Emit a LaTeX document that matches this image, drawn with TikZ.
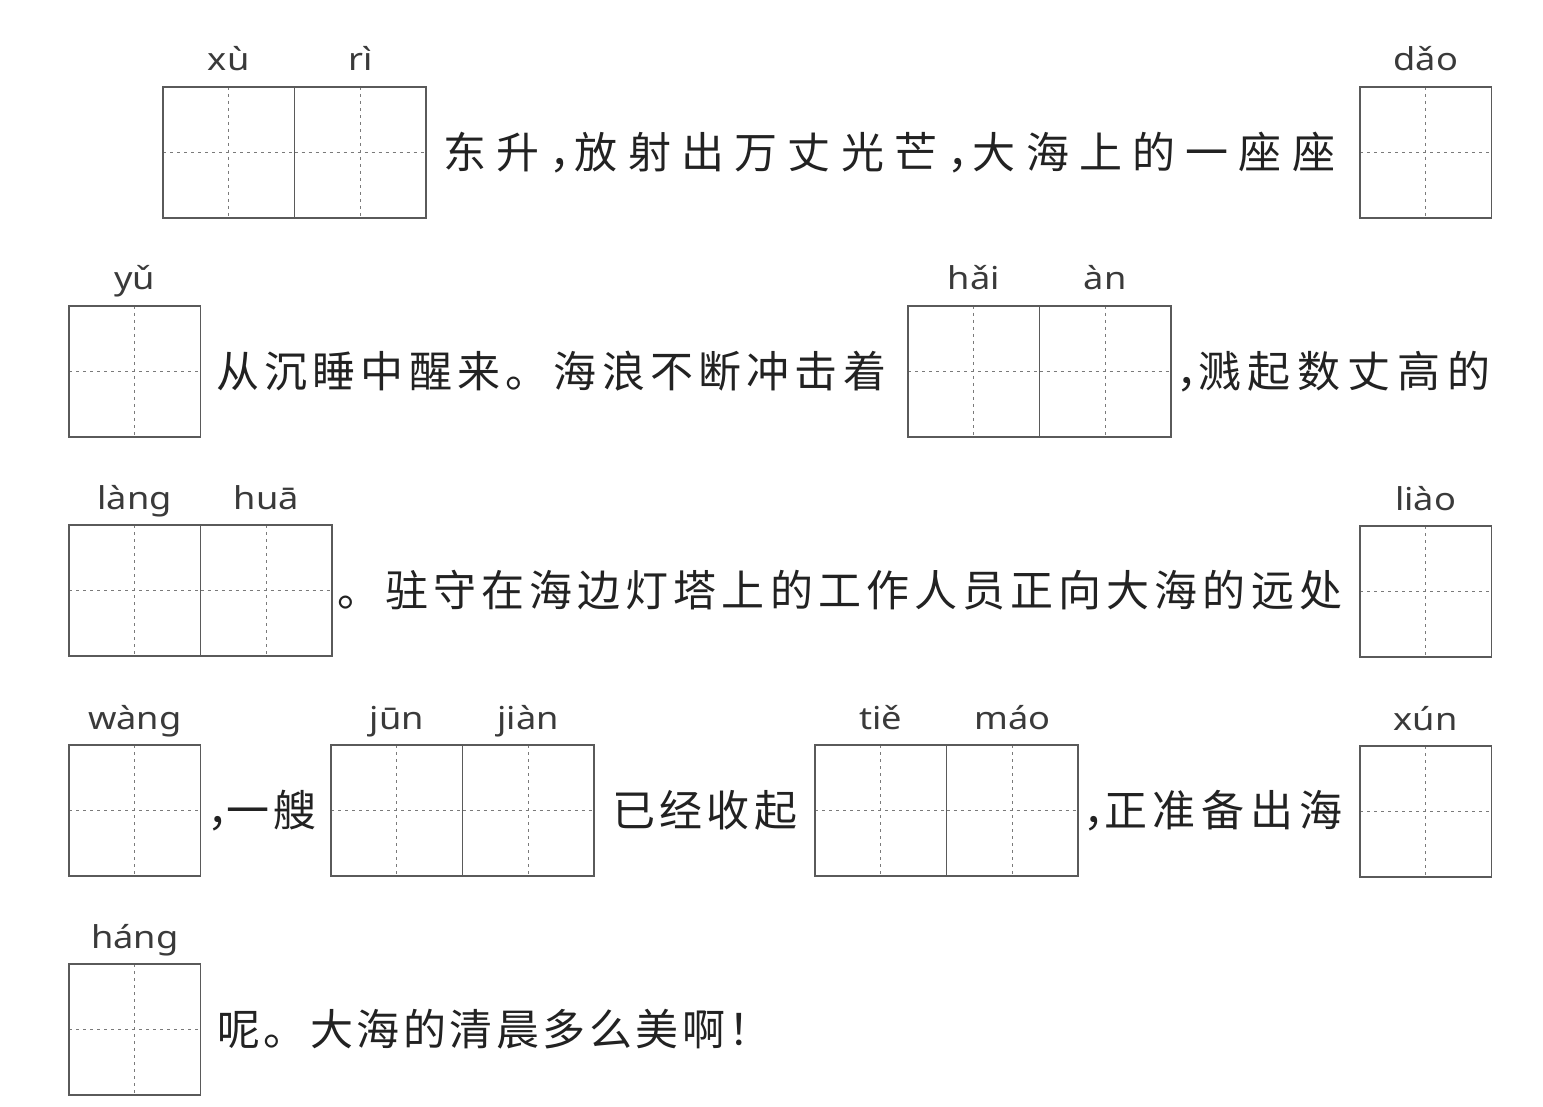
\documentclass[tikz,border=0pt]{standalone}
\usepackage{fontspec}
\newfontfamily\cjk{Noto Sans CJK SC}
\newfontfamily\py[FakeStretch=1.15]{Noto Sans}
\definecolor{boxgray}{HTML}{5A5A5A}
\definecolor{dashgray}{HTML}{7A7A7A}
\definecolor{pygray}{HTML}{3A3A3A}
\definecolor{txtgray}{HTML}{222222}
\def\spfirst#1{#1\spnext}
\def\spnext#1{\ifx\relax#1\else\hfill#1\expandafter\spnext\fi}
\newcommand\hc{\makebox[0.35em][l]{，}}
\newcommand\hx{\makebox[0.45em][l]{！}}
\tikzset{
  dashline/.style={draw=dashgray, line width=0.9pt, dash pattern=on 3pt off 4pt},
  tian/.style={draw=boxgray, line width=1.3pt, minimum width=131.5pt, minimum height=131pt,
    inner sep=0pt, outer sep=0pt,
    path picture={
      \draw[dashline] (path picture bounding box.north) -- (path picture bounding box.south);
      \draw[dashline] (path picture bounding box.west) -- (path picture bounding box.east);}},
  pinyin/.style={font=\py\fontsize{31.5}{31.5}\selectfont, text=pygray, anchor=base, inner sep=0pt},
  hanzi/.style={font=\cjk\fontsize{43}{43}\selectfont, text=txtgray, anchor=base west, inner sep=0pt},
}
\newcommand\tcell[4]{%
  \node[tian] (#1) at ({#2+65.75},{#3+65.5}) {};
  \node[pinyin] (#1py) at ({#2+65.75},{#3-16}) {#4};}
\newcommand\rowtxt[5]{%
  \node[hanzi] (#1) at (#2,#3) {\makebox[#4pt][s]{\spfirst#5\relax}};}
\begin{document}
\begin{tikzpicture}[x=1pt,y=-1pt]
\fill[white] (0,0) rectangle (1543,1107);
\useasboundingbox (0,0) rectangle (1543,1107);
% row 1
\tcell{c1}{163}{87}{xù}
\tcell{c2}{294.5}{87}{rì}
\rowtxt{t1}{443}{168.5}{892}{东升{\hc}放射出万丈光芒{\hc}大海上的一座座}
\tcell{c3}{1360}{87}{dǎo}
% row 2
\tcell{c4}{69}{306}{yǔ}
\rowtxt{t2}{216}{387.5}{670}{从沉睡中醒来。海浪不断冲击着}
\tcell{c5}{908}{306}{hǎi}
\tcell{c6}{1039.5}{306}{àn}
\rowtxt{t3}{1176}{387.5}{314}{{\hc}溅起数丈高的}
% row 3
\tcell{c7}{69}{525}{làng}
\tcell{c8}{200.5}{525}{huā}
\rowtxt{t4}{337}{606.5}{1005}{。驻守在海边灯塔上的工作人员正向大海的远处}
\tcell{c9}{1360}{526}{liào}
% row 4
\tcell{c10}{69}{745}{wàng}
\rowtxt{t5}{207}{826.5}{109}{{\hc}一艘}
\tcell{c11}{331}{745}{jūn}
\tcell{c12}{462.5}{745}{jiàn}
\rowtxt{t6}{612}{826.5}{185}{已经收起}
\tcell{c13}{815}{745}{tiě}
\tcell{c14}{946.5}{745}{máo}
\rowtxt{t7}{1083}{826.5}{259}{{\hc}正准备出海}
\tcell{c15}{1360}{746}{xún}
% row 5
\tcell{c16}{69}{964}{háng}
\rowtxt{t8}{217}{1045.5}{531}{呢。大海的清晨多么美啊{\hx}}
\end{tikzpicture}
\end{document}
